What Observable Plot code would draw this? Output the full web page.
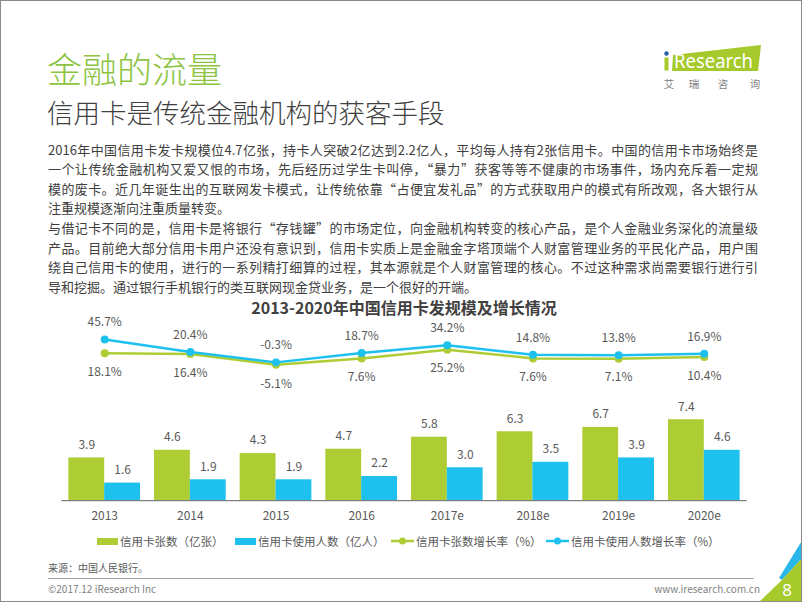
<!DOCTYPE html>
<html>
<head>
<meta charset="utf-8">
<script src="https://cdn.jsdelivr.net/npm/d3@7"></script>
<script src="https://cdn.jsdelivr.net/npm/@observablehq/plot@0.6"></script>
<style>
  html, body { margin: 0; padding: 0; background: #fff; }
  #page { position: relative; width: 802px; height: 602px; overflow: hidden; box-sizing: border-box; border: 1px solid #8a8a8a; font-family: "Noto Sans CJK SC", "Noto Sans", sans-serif; background: #fff; }
  .abs { position: absolute; white-space: nowrap; }
  #title { left: 46px; top: 42px; line-height: 50px; font-size: 35px; color: #8cc43f; font-weight: 300; }
  #subtitle { left: 46px; top: 91px; line-height: 40px; font-size: 26.5px; color: #404040; font-weight: 300; }
  #para { left: 47px; top: 138.5px; width: 710px; font-size: 13px; line-height: 19.65px; color: #404040; }
  #para div { text-align: justify; text-align-last: justify; white-space: nowrap; }
  #para div.end { text-align-last: left; }
  #ctitle { left: 0; width: 806px; text-align: center; top: 294px; line-height: 24px; font-size: 16px; font-weight: 700; color: #404040; }
  #lines, #bars { position: absolute; left: 0; }
  #lines { top: 310px; }
  #bars { top: 400px; }
  .leg { position: absolute; top: 532px; height: 16px; display: flex; align-items: center; font-size: 11.5px; color: #595959; white-space: nowrap; }
  .leg .sw { display: inline-block; width: 21px; height: 7px; margin-right: 2px; }
  .leg svg { margin-right: 2px; }
  #source { left: 47px; top: 559px; line-height: 16px; font-size: 10px; color: #595959; }
  #rule { position: absolute; left: 47px; top: 577px; width: 706px; height: 1px; background: #a6a6a6; }
  #copy { left: 47px; top: 580px; line-height: 15px; font-size: 10px; color: #7f7f7f; }
  #web { right: 41px; top: 580px; line-height: 15px; font-size: 10px; color: #7f7f7f; }
</style>
</head>
<body>
<div id="page">
  <div id="title" class="abs">金融的流量</div>
  <div id="subtitle" class="abs">信用卡是传统金融机构的获客手段</div>
  <svg class="abs" style="left:650px;top:36px" width="120" height="60" viewBox="650 36 120 60">
    <polygon points="672,54 760,44 757,70 671,70" fill="#a6c92b"/>
    <rect x="663.5" y="56.5" width="4" height="13" fill="#a6c92b"/>
    <circle cx="665.5" cy="52.5" r="2.2" fill="#2a5caa"/>
    <text x="673" y="66.5" font-size="19" fill="#fff" textLength="79" lengthAdjust="spacingAndGlyphs" font-family="Noto Sans, sans-serif">Research</text>
    <g font-size="10.5" fill="#7f7f7f" text-anchor="middle" font-family="Noto Sans CJK SC">
      <text x="668" y="87">艾</text><text x="693" y="87">瑞</text><text x="722" y="87">咨</text><text x="754" y="87">询</text>
    </g>
  </svg>
  <div id="para" class="abs">
    <div>2016年中国信用卡发卡规模位4.7亿张，持卡人突破2亿达到2.2亿人，平均每人持有2张信用卡。中国的信用卡市场始终是</div>
    <div>一个让传统金融机构又爱又恨的市场，先后经历过学生卡叫停，“暴力”获客等等不健康的市场事件，场内充斥着一定规</div>
    <div>模的废卡。近几年诞生出的互联网发卡模式，让传统依靠“占便宜发礼品”的方式获取用户的模式有所改观，各大银行从</div>
    <div class="end">注重规模逐渐向注重质量转变。</div>
    <div>与借记卡不同的是，信用卡是将银行“存钱罐”的市场定位，向金融机构转变的核心产品，是个人金融业务深化的流量级</div>
    <div>产品。目前绝大部分信用卡用户还没有意识到，信用卡实质上是金融金字塔顶端个人财富管理业务的平民化产品，用户围</div>
    <div>绕自己信用卡的使用，进行的一系列精打细算的过程，其本源就是个人财富管理的核心。不过这种需求尚需要银行进行引</div>
    <div class="end">导和挖掘。通过银行手机银行的类互联网现金贷业务，是一个很好的开端。</div>
  </div>
  <div id="ctitle" class="abs">2013-2020年中国信用卡发规模及增长情况</div>
  <div id="lines"></div>
  <div id="bars"></div>
  <div id="legend"></div>
  <div id="source" class="abs">来源：中国人民银行。</div>
  <div id="rule"></div>
  <div id="copy" class="abs">©2017.12 iResearch Inc</div>
  <div id="web" class="abs">www.iresearch.com.cn</div>
  <svg class="abs" style="left:740px;top:530px" width="62" height="72" viewBox="740 530 62 72">
    <polygon points="802,538 802,556 781,579 778,577" fill="#29b6e8"/>
    <polygon points="802,556 802,602 757,602 781,579" fill="#a6c92b"/>
    <text x="786" y="595" font-size="17" fill="#fff" text-anchor="middle" font-family="Noto Sans, sans-serif">8</text>
  </svg>
</div>
<script>
// ---- data ----
const years = ["2013", "2014", "2015", "2016", "2017e", "2018e", "2019e", "2020e"];
const cardCount = [3.9, 4.6, 4.3, 4.7, 5.8, 6.3, 6.7, 7.4];        // 信用卡张数（亿张）
const userCount = [1.6, 1.9, 1.9, 2.2, 3.0, 3.5, 3.9, 4.6];        // 信用卡使用人数（亿人）
const cardGrowth = [18.1, 16.4, -5.1, 7.6, 25.2, 7.6, 7.1, 10.4];  // 信用卡张数增长率（%）
const userGrowth = [45.7, 20.4, -0.3, 18.7, 34.2, 14.8, 13.8, 16.9]; // 信用卡使用人数增长率（%）
const seriesNames = ["信用卡张数（亿张）", "信用卡使用人数（亿人）", "信用卡张数增长率（%）", "信用卡使用人数增长率（%）"];

const GREEN = "#aecd35";
const BLUE = "#1ec0ee";
const LABEL = "#595959";
const FONT = "'Noto Sans CJK SC', 'Noto Sans', sans-serif";

const rows = years.map((y, i) => ({year: y, cards: cardCount[i], users: userCount[i], cardG: cardGrowth[i], userG: userGrowth[i]}));

const mL = 60.5, mR = 54.5;
const pIn = 0.163, pOut = 0.0815;
const step = (802 - mL - mR) / (years.length - pIn + 2 * pOut);
const half = step * (1 - pIn) / 2;

// ---- growth lines ----
const lines = Plot.plot({
  width: 802, height: 90,
  marginLeft: mL, marginRight: mR, marginTop: 25.85, marginBottom: 34.15,
  x: {type: "point", domain: years, padding: 0.5, round: false, axis: null},
  y: {domain: [-10, 50], axis: null},
  style: {fontFamily: FONT, background: "transparent", overflow: "visible"},
  marks: [
    Plot.line(rows, {x: "year", y: "cardG", stroke: GREEN, strokeWidth: 2.5}),
    Plot.dot(rows, {x: "year", y: "cardG", r: 4, fill: GREEN}),
    Plot.line(rows, {x: "year", y: "userG", stroke: BLUE, strokeWidth: 2.5}),
    Plot.dot(rows, {x: "year", y: "userG", r: 4, fill: BLUE}),
    Plot.text(rows, {x: "year", y: "cardG", text: d => d.cardG.toFixed(1) + "%", dy: 19, fontSize: 12, fill: LABEL}),
    Plot.text(rows, {x: "year", y: "userG", text: d => d.userG.toFixed(1) + "%", dy: -17, fontSize: 12, fill: LABEL})
  ]
});
document.getElementById("lines").appendChild(lines);

// ---- bars ----
const bars = Plot.plot({
  width: 802, height: 130,
  marginLeft: mL, marginRight: mR, marginTop: 11.7, marginBottom: 30.7,
  x: {domain: years, paddingInner: pIn, paddingOuter: pOut, round: false, tickSize: 0, tickPadding: 11, label: null},
  y: {domain: [0, 8], axis: null},
  style: {fontFamily: FONT, fontSize: "12px", color: LABEL, background: "transparent", overflow: "visible"},
  marks: [
    Plot.barY(rows, {x: "year", y: "cards", fill: GREEN, insetLeft: 0, insetRight: half}),
    Plot.barY(rows, {x: "year", y: "users", fill: BLUE, insetLeft: half, insetRight: 0}),
    Plot.ruleY([0], {stroke: "#7f7f7f", strokeWidth: 1.2}),
    Plot.text(rows, {x: "year", y: "cards", text: d => d.cards.toFixed(1), dx: -half / 2, dy: -13, fontSize: 12, fill: LABEL}),
    Plot.text(rows, {x: "year", y: "users", text: d => d.users.toFixed(1), dx: half / 2, dy: -13, fontSize: 12, fill: LABEL})
  ]
});
document.getElementById("bars").appendChild(bars);

// ---- legend ----
const legPos = [96, 234, 390, 545];
const legend = document.getElementById("legend");
seriesNames.forEach((name, i) => {
  const item = document.createElement("div");
  item.className = "leg";
  item.style.left = legPos[i] + "px";
  const color = i % 2 === 0 ? GREEN : BLUE;
  if (i < 2) {
    item.innerHTML = `<span class="sw" style="background:${color}"></span><span>${name}</span>`;
  } else {
    item.innerHTML = `<svg width="23" height="10"><line x1="0" y1="5" x2="23" y2="5" stroke="${color}" stroke-width="2.5"/><circle cx="11.5" cy="5" r="3.5" fill="${color}"/></svg><span>${name}</span>`;
  }
  legend.appendChild(item);
});
</script>
</body>
</html>
